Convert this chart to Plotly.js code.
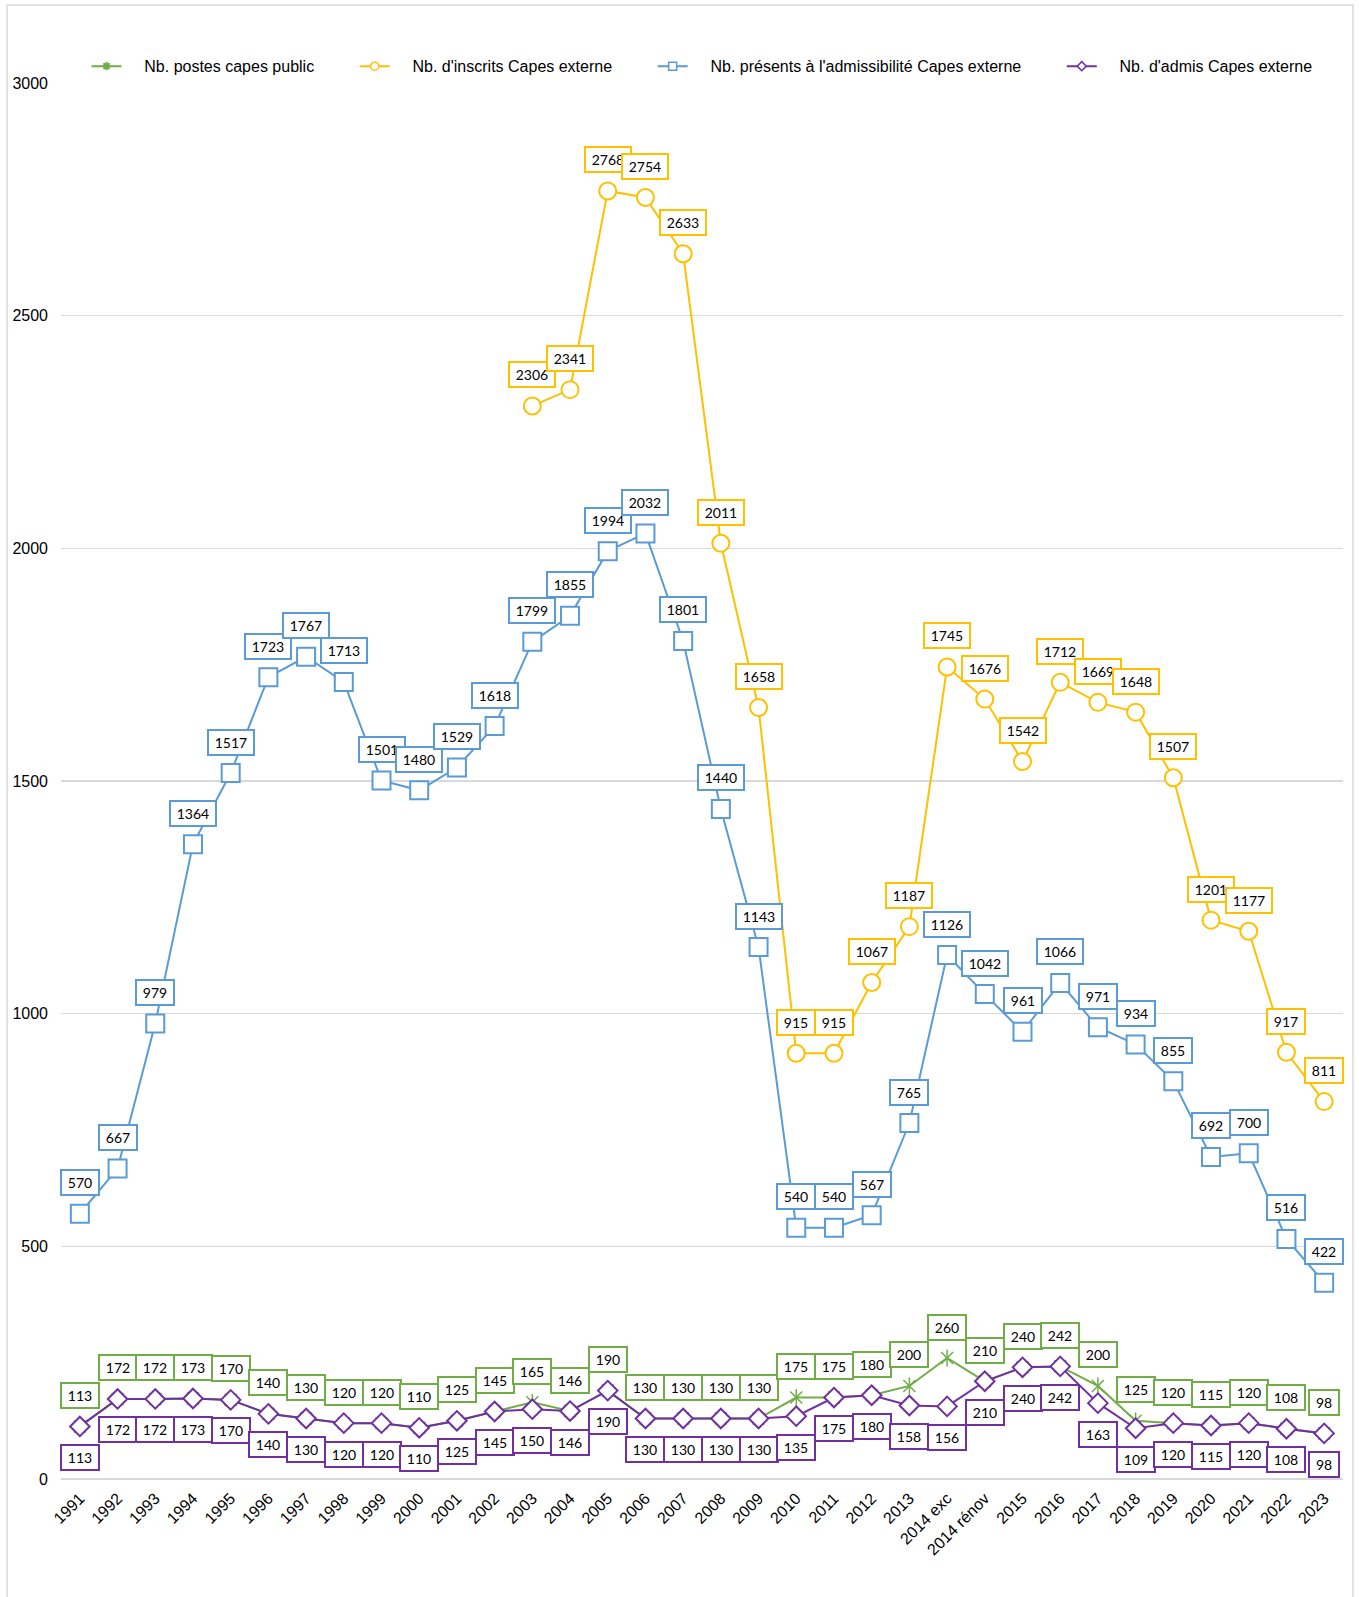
<!DOCTYPE html>
<html>
<head>
<meta charset="utf-8">
<script src="https://cdn.plot.ly/plotly-3.0.1.min.js"></script>
<style>
  html, body { margin: 0; padding: 0; background: #ffffff; }
  #chart { width: 1359px; height: 1597px; }
</style>
</head>
<body>
<div id="chart"></div>
<script>
const categories = ['1991','1992','1993','1994','1995','1996','1997','1998','1999','2000',
  '2001','2002','2003','2004','2005','2006','2007','2008','2009','2010',
  '2011','2012','2013','2014 exc','2014 rénov','2015','2016','2017','2018','2019',
  '2020','2021','2022','2023'];

const postes = [113,172,172,173,170,140,130,120,120,110,
  125,145,165,146,190,130,130,130,130,175,
  175,180,200,260,210,240,242,200,125,120,
  115,120,108,98];

const inscrits = [null,null,null,null,null,null,null,null,null,null,
  null,null,2306,2341,2768,2754,2633,2011,1658,915,
  915,1067,1187,1745,1676,1542,1712,1669,1648,1507,
  1201,1177,917,811];

const presents = [570,667,979,1364,1517,1723,1767,1713,1501,1480,
  1529,1618,1799,1855,1994,2032,1801,1440,1143,540,
  540,567,765,1126,1042,961,1066,971,934,855,
  692,700,516,422];

const admis = [113,172,172,173,170,140,130,120,120,110,
  125,145,150,146,190,130,130,130,130,135,
  175,180,158,156,210,240,242,163,109,120,
  115,120,108,98];

const seriesNames = ['Nb. postes capes public', "Nb. d'inscrits Capes externe",
  "Nb. présents à l'admissibilité Capes externe", "Nb. d'admis Capes externe"];

const GREEN = '#70AD47', YELLOW = '#FFC000', BLUE = '#5B9BD5', PURPLE = '#7030A0';
const NB = '\u00A0';
function legendName(s, last) { return NB.repeat(4) + s + (last ? '' : NB.repeat(8)); }

const traces = [
  {x: categories, y: postes, type: 'scatter', mode: 'lines+markers', showlegend: false,
   line: {color: GREEN, width: 2},
   marker: {symbol: 'x-thin-open', size: 12, color: GREEN, line: {color: GREEN, width: 1.5}}},
  {x: categories, y: postes, type: 'scatter', mode: 'markers', showlegend: false,
   marker: {symbol: 'line-ns-open', size: 12, color: GREEN, line: {color: GREEN, width: 1.5}}},
  {x: categories, y: inscrits, type: 'scatter', mode: 'lines+markers', showlegend: false,
   line: {color: YELLOW, width: 2},
   marker: {symbol: 'circle', size: 17, color: '#ffffff', line: {color: YELLOW, width: 2}}},
  {x: categories, y: presents, type: 'scatter', mode: 'lines+markers', showlegend: false,
   line: {color: BLUE, width: 2},
   marker: {symbol: 'square', size: 18, color: '#ffffff', line: {color: BLUE, width: 2}}},
  {x: categories, y: admis, type: 'scatter', mode: 'lines+markers', showlegend: false,
   line: {color: PURPLE, width: 2},
   marker: {symbol: 'diamond', size: 15, color: '#ffffff', line: {color: PURPLE, width: 2}}},
  // legend entries
  {x: [null], y: [null], name: legendName(seriesNames[0]), type: 'scatter', mode: 'lines+markers',
   line: {color: GREEN, width: 2}, marker: {symbol: 'asterisk-open', size: 7, line: {color: GREEN, width: 2}}},
  {x: [null], y: [null], name: legendName(seriesNames[1]), type: 'scatter', mode: 'lines+markers',
   line: {color: YELLOW, width: 2}, marker: {symbol: 'circle', size: 8, color: '#fff', line: {color: YELLOW, width: 1.5}}},
  {x: [null], y: [null], name: legendName(seriesNames[2]), type: 'scatter', mode: 'lines+markers',
   line: {color: BLUE, width: 2}, marker: {symbol: 'square', size: 8, color: '#fff', line: {color: BLUE, width: 1.5}}},
  {x: [null], y: [null], name: legendName(seriesNames[3], true), type: 'scatter', mode: 'lines+markers',
   line: {color: PURPLE, width: 2}, marker: {symbol: 'diamond', size: 7, color: '#fff', line: {color: PURPLE, width: 1.5}}}
];

function labels(values, color, shift) {
  const out = [];
  values.forEach((v, i) => {
    if (v === null) return;
    const s = String(v);
    out.push({
      x: i, y: v, xref: 'x', yref: 'y', text: s, showarrow: false,
      xanchor: 'center', yanchor: 'middle', yshift: shift,
      font: {family: 'Lato, "Open Sans", sans-serif', size: 14, color: '#000000'},
      bgcolor: '#ffffff', bordercolor: color, borderwidth: 2, borderpad: 3,
      width: s.length * 8 + 6, height: 17
    });
  });
  return out;
}

const annotations = [].concat(
  labels(postes, GREEN, 31),
  labels(inscrits, YELLOW, 31),
  labels(presents, BLUE, 31),
  labels(admis, PURPLE, -31)
);

const layout = {
  width: 1359, height: 1597,
  margin: {l: 61, r: 16, t: 83, b: 118},
  paper_bgcolor: '#ffffff', plot_bgcolor: '#ffffff',
  font: {family: '"Liberation Sans", Arial, sans-serif', size: 16, color: '#000000'},
  showlegend: true,
  legend: {orientation: 'h', x: 0.5, xanchor: 'center', y: 1.012, yanchor: 'middle',
    font: {family: '"Liberation Sans", Arial, sans-serif', size: 16, color: '#000000'},
    bgcolor: 'rgba(0,0,0,0)'},
  xaxis: {type: 'category', range: [-0.5, categories.length - 0.5], tickangle: -45,
    showgrid: false, showline: false, zeroline: false, ticks: '',
    ticklabelstandoff: 6,
    tickfont: {family: '"Liberation Sans", Arial, sans-serif', size: 16, color: '#000000'},
    fixedrange: true},
  yaxis: {range: [0, 3000], dtick: 500, tick0: 0, showgrid: true, gridcolor: '#D9D9D9', gridwidth: 1.5,
    zeroline: true, zerolinecolor: '#D9D9D9', zerolinewidth: 1.5, showline: false, ticks: '',
    ticklabelstandoff: 12,
    tickfont: {family: '"Liberation Sans", Arial, sans-serif', size: 16, color: '#000000'},
    fixedrange: true},
  annotations: annotations,
  shapes: [{type: 'rect', xref: 'paper', yref: 'paper', x0: -0.0421, x1: 1.0078, y0: -0.2, y1: 1.0559,
    line: {color: '#D9D9D9', width: 1.5}, fillcolor: 'rgba(0,0,0,0)', layer: 'below'}]
};

Plotly.newPlot('chart', traces, layout, {displayModeBar: false, staticPlot: true});
</script>
</body>
</html>
